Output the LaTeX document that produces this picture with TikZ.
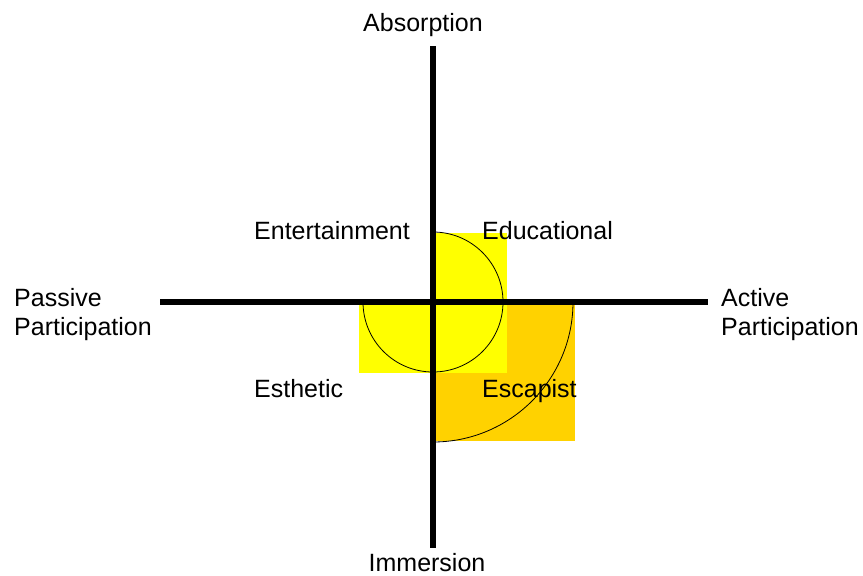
\documentclass[tikz,border=0pt]{standalone}
\usepackage{fontspec}
\setmainfont{Liberation Sans}
\usetikzlibrary{positioning}
\definecolor{expyellow}{HTML}{FFFF00}
\definecolor{expgold}{HTML}{FFD200}

\begin{document}
\begin{tikzpicture}[
  x=1pt, y=-1pt,
  axis/.style={line width=6pt, black},
  realm/.style={inner sep=0pt, anchor=base west, font=\fontsize{25}{29}\selectfont},
  pole/.style={inner sep=0pt, anchor=base, font=\fontsize{25}{29}\selectfont},
  side/.style={inner sep=0pt, anchor=base west, align=left, font=\fontsize{25}{29}\selectfont}
]
\useasboundingbox (0,0) rectangle (863,576);

% shaded areas
\fill[expgold] (433,302) rectangle (575,441);
\draw[line width=0.8pt] (573,302) arc[start angle=0, end angle=90, radius=140];
\fill[expyellow] (433,233) rectangle (507,302);
\fill[expyellow] (359,302) rectangle (507,373);
\draw[line width=0.8pt] (433,232) arc[start angle=-90, end angle=180, radius=70];

% axes
\coordinate (top) at (433,46);
\coordinate (bottom) at (433,548);
\coordinate (left) at (160,302);
\coordinate (right) at (708,302);
\draw[axis] (top) -- (bottom);
\draw[axis] (left) -- (right);

% axis labels
\node[pole] (absorption) at (423,31) {Absorption};
\node[pole] (immersion) at (427,571) {Immersion};
\node[side] (passive) at (14,335) {Passive\\Participation};
\node[side] (active) at (721,335) {Active\\Participation};

% realms
\node[realm] (entertainment) at (254,239) {Entertainment};
\node[realm] (educational) at (482,239) {Educational};
\node[realm] (esthetic) at (254,397) {Esthetic};
\node[realm] (escapist) at (482,397) {Escapist};

\end{tikzpicture}
\end{document}
